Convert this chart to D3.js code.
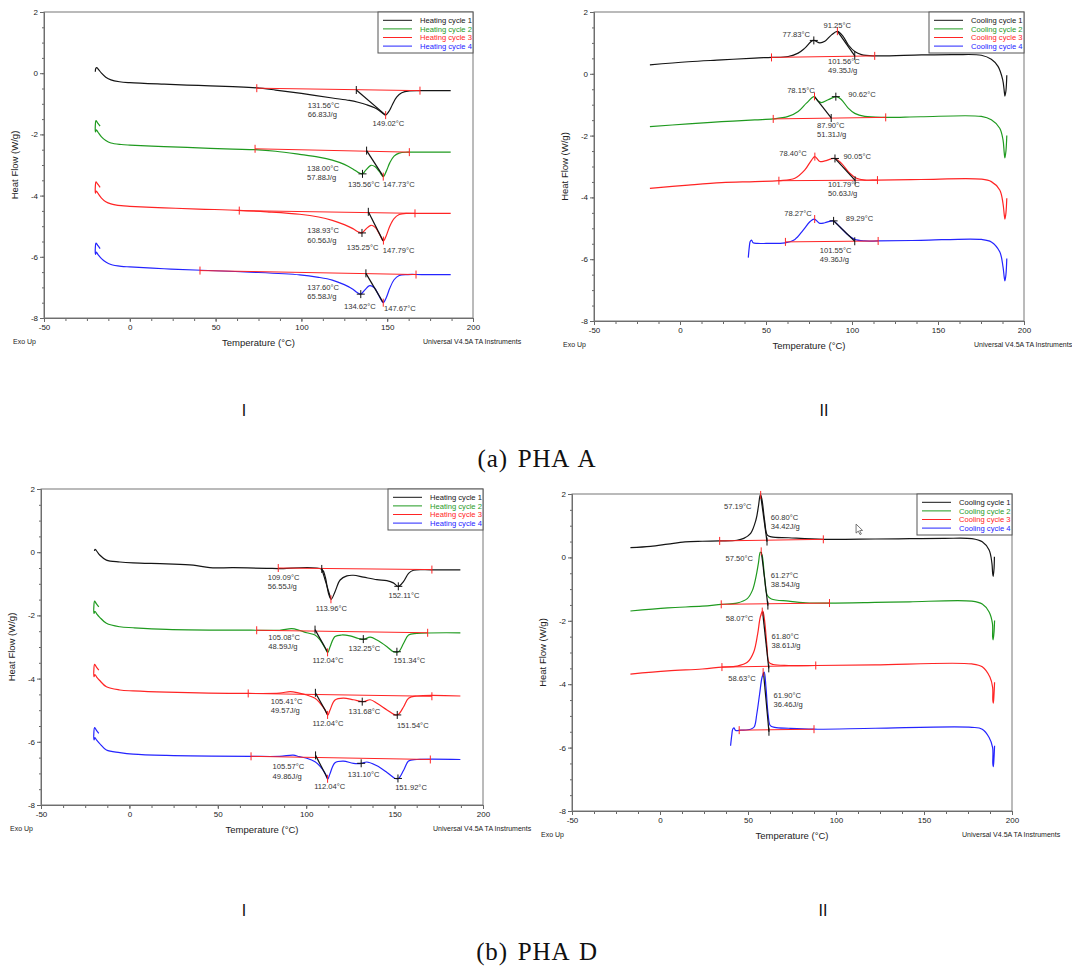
<html>
  <head>
    <title>DSC PHA A / PHA D</title>
    <meta charset="utf-8" />
    <script src="https://cdnjs.cloudflare.com/ajax/libs/d3/7.8.5/d3.min.js"></script>
    <style>
      body { margin: 0; background: #fff; }
      svg { display: block; }
      text { font-family: "Liberation Sans", Arial, sans-serif; }
    </style>
  </head>
  <body>
    <svg width="1072" height="967"></svg>
  </body>

  <script>
    const xTicks = [-50, 0, 50, 100, 150, 200];
    const yTicks = [2, 0, -2, -4, -6, -8];
    const heatNames = ["Heating cycle 1", "Heating cycle 2", "Heating cycle 3", "Heating cycle 4"];
    const coolNames = ["Cooling cycle 1", "Cooling cycle 2", "Cooling cycle 3", "Cooling cycle 4"];

    // PHA A, heating
    const aHeat1 = [[-20.1,0.05],[-19.8,0.16],[-19.2,0.18],[-18.2,0.12],[-16.5,0.0],[-14,-0.13],[-11,-0.22],[-6,-0.28],[0,-0.31],[20,-0.36],[40,-0.40],[60,-0.44],[74,-0.48],[85,-0.55],[100,-0.66],[118,-0.81],[128,-0.89],[133,-0.95],[138,-1.03],[143,-1.14],[147,-1.29],[149,-1.37],[151,-1.25],[153,-1.03],[155.5,-0.78],[158.5,-0.64],[163,-0.58],[170,-0.57],[187,-0.57]];
    const aHeat2 = [[-17.3,-1.73],[-18.8,-1.62],[-19.7,-1.55],[-20.1,-1.72],[-20.0,-1.92],[-19.5,-1.85],[-18.5,-1.93],[-16.5,-2.08],[-14,-2.2],[-11,-2.28],[-5,-2.33],[0,-2.35],[20,-2.40],[40,-2.44],[60,-2.48],[73,-2.50],[85,-2.55],[99,-2.65],[110,-2.74],[118,-2.84],[125,-2.98],[130,-3.13],[133,-3.24],[135.5,-3.29],[137.5,-3.17],[140.5,-3.01],[143,-3.06],[145.5,-3.22],[147.7,-3.38],[149.5,-3.2],[151.5,-2.93],[154,-2.71],[157,-2.61],[162,-2.58],[170,-2.58],[187,-2.58]];
    const aHeat3 = [[-17.3,-3.73],[-18.8,-3.62],[-19.7,-3.55],[-20.1,-3.72],[-20.0,-3.92],[-19.5,-3.85],[-18.5,-3.93],[-16.5,-4.08],[-14,-4.2],[-11,-4.27],[-5,-4.33],[0,-4.35],[20,-4.40],[40,-4.44],[63.6,-4.48],[80,-4.53],[99,-4.61],[110,-4.70],[118,-4.81],[125,-4.95],[130,-5.08],[133,-5.18],[135.2,-5.22],[137.5,-5.1],[140.5,-4.97],[143,-5.04],[145.5,-5.26],[147.8,-5.48],[149.5,-5.3],[151.5,-5.0],[154,-4.75],[157,-4.62],[162,-4.58],[170,-4.58],[187,-4.58]];
    const aHeat4 = [[-17.3,-5.73],[-18.8,-5.62],[-19.7,-5.55],[-20.1,-5.72],[-20.0,-5.92],[-19.5,-5.85],[-18.5,-5.93],[-16.5,-6.06],[-14,-6.17],[-11,-6.25],[-5,-6.31],[0,-6.33],[20,-6.39],[41.7,-6.44],[70,-6.50],[99,-6.59],[110,-6.67],[118,-6.76],[125,-6.91],[130,-7.06],[132.5,-7.17],[134.6,-7.22],[137,-7.08],[139.8,-6.94],[142.5,-7.01],[145,-7.25],[147.7,-7.5],[149.5,-7.33],[151.5,-7.03],[154,-6.75],[157,-6.61],[162,-6.58],[170,-6.58],[187,-6.58]];
    const aHeatBase = [[[74.0,-0.49],[169.1,-0.57]],[[73.0,-2.47],[162.9,-2.58]],[[63.8,-4.49],[166.2,-4.58]],[[40.9,-6.45],[166.8,-6.58]]];
    const aHeatTan = [[[132.0,-0.55],[149.1,-1.37]],[[138.0,-2.53],[147.7,-3.37]],[[139.0,-4.53],[147.6,-5.48]],[[137.6,-6.54],[147.5,-7.48]]];
    const aHeatPeak = [[149.1,-1.37],[147.7,-3.38],[147.8,-5.47],[147.7,-7.5]];
    const aHeatCross = [[135.6,-3.29],[135.3,-5.22],[134.6,-7.22]];
    const aHeatLabels = [["131.56°C",103.7,-1.06],["66.83J/g",103.7,-1.33],["149.02°C",141.5,-1.64],
      ["138.00°C",103.3,-3.10],["57.88J/g",103.3,-3.39],["135.56°C",127.2,-3.62],["147.73°C",147.6,-3.62],
      ["138.93°C",103.4,-5.15],["60.56J/g",103.4,-5.47],["135.25°C",126.4,-5.70],["147.79°C",147.4,-5.78],
      ["137.60°C",103.4,-7.01],["65.58J/g",103.4,-7.30],["134.62°C",124.8,-7.63],["147.67°C",148.1,-7.68]];

    // PHA A, cooling
    const aCool1 = [[-17.5,0.29],[4.8,0.39],[24.2,0.45],[43.5,0.51],[53.2,0.53],[62.9,0.56],[68.7,0.67],[72.6,0.83],[77.4,1.08],[81.3,1.0],[84.2,1.05],[88.1,1.26],[91.6,1.37],[94.8,1.21],[97.8,0.94],[101.6,0.72],[105.5,0.62],[113.2,0.58],[140.4,0.61],[159.7,0.62],[175.2,0.6],[181,0.47],[184.9,0.24],[187.6,-0.19],[188.5,-0.55],[188.9,-0.72],[189.5,-0.55],[190,-0.05]];
    const aCool2 = [[-17.5,-1.71],[4.8,-1.62],[24.2,-1.55],[43.5,-1.49],[54.2,-1.46],[62.9,-1.38],[68.7,-1.22],[73.5,-0.95],[78,-0.74],[80.3,-0.88],[82.3,-0.93],[86.1,-0.84],[91,-0.74],[93.9,-0.84],[97.8,-1.11],[101.6,-1.28],[107.4,-1.38],[119.6,-1.41],[140,-1.39],[175.2,-1.38],[181,-1.49],[185.9,-1.76],[187.8,-2.14],[188.5,-2.55],[188.9,-2.72],[189.5,-2.5],[190,-2.0]];
    const aCool3 = [[-17.5,-3.71],[4.8,-3.6],[24.2,-3.52],[43.5,-3.49],[57.5,-3.46],[66.8,-3.38],[72.6,-3.11],[76.5,-2.79],[78.4,-2.68],[81.3,-2.84],[84.2,-2.82],[90,-2.74],[93.9,-2.9],[98.7,-3.22],[102.6,-3.38],[107.4,-3.44],[114.8,-3.44],[140,-3.42],[175.2,-3.41],[181,-3.49],[185.9,-3.76],[187.8,-4.2],[188.5,-4.55],[188.9,-4.7],[189.5,-4.5],[190,-4.03]];
    const aCool4 = [[39.7,-5.95],[40.3,-5.6],[40.8,-5.43],[41.6,-5.38],[42.5,-5.47],[45,-5.49],[50,-5.49],[61,-5.47],[66.8,-5.36],[71.6,-5.06],[75.5,-4.79],[78,-4.70],[81.3,-4.84],[84.2,-4.82],[89,-4.76],[92.9,-4.95],[97.8,-5.22],[101.6,-5.36],[107.4,-5.41],[115.2,-5.41],[140,-5.39],[175.2,-5.36],[181,-5.44],[185.9,-5.76],[187.8,-6.25],[188.5,-6.58],[188.9,-6.7],[189.5,-6.5],[190,-5.98]];
    const aCoolBase = [[[53.2,0.53],[113.2,0.58]],[[54.2,-1.46],[119.6,-1.41]],[[57.5,-3.46],[114.8,-3.44]],[[61.3,-5.44],[115.2,-5.41]]];
    const aCoolTan = [[[101.6,0.58],[91.5,1.38]],[[87.9,-1.43],[78.2,-0.74]],[[101.8,-3.45],[90.1,-2.74]],[[101.6,-5.42],[89.3,-4.76]]];
    const aCoolPeak = [[91.5,1.38],[78.2,-0.73],[78.4,-2.68],[78.3,-4.70]];
    const aCoolCross = [[77.8,1.08],[90.6,-0.74],[90.1,-2.74],[89.3,-4.76]];
    const aCoolLabels = [["77.83°C",59.6,1.29],["91.25°C",83.4,1.57],["101.56°C",86.1,0.39],["49.35J/g",86.1,0.10],
      ["78.15°C",62.3,-0.55],["90.62°C",97.8,-0.66],["87.90°C",79.7,-1.68],["51.31J/g",79.7,-1.97],
      ["78.40°C",57.7,-2.56],["90.05°C",95.0,-2.68],["101.79°C",86.1,-3.58],["50.63J/g",86.1,-3.87],
      ["78.27°C",60.6,-4.52],["89.29°C",96.4,-4.69],["101.55°C",81.3,-5.72],["49.36J/g",81.3,-6.0]];

    // PHA D, heating
    const bHeat1 = [[-19.8,0.04],[-19.4,0.09],[-18.8,0.06],[-16.8,-0.09],[-13,-0.25],[-5.4,-0.31],[2.1,-0.34],[21,-0.37],[36.1,-0.41],[45.5,-0.49],[58.8,-0.49],[77.6,-0.51],[84.2,-0.52],[108.8,-0.54],[110.7,-0.77],[112.6,-1.30],[114.1,-1.49],[116.3,-1.25],[119.2,-0.88],[123,-0.75],[126.7,-0.73],[132.4,-0.79],[140,-0.87],[145.6,-0.9],[149.3,-0.97],[152.1,-1.08],[155,-0.93],[157.9,-0.67],[160.7,-0.57],[171.1,-0.56],[187.2,-0.56]];
    const bHeat2 = [[-17.3,-1.73],[-18.8,-1.62],[-19.7,-1.55],[-20.1,-1.72],[-20.0,-1.94],[-19.5,-1.87],[-18.5,-1.95],[-16.8,-2.06],[-13,-2.25],[-5.4,-2.36],[2.1,-2.39],[21,-2.44],[72,-2.47],[85,-2.47],[91.8,-2.42],[96,-2.47],[100.3,-2.55],[105,-2.62],[107.9,-2.78],[110.7,-3.04],[112.2,-3.18],[113.5,-2.99],[116.3,-2.67],[120.1,-2.62],[124.8,-2.65],[129.6,-2.73],[132.4,-2.76],[136.2,-2.69],[140,-2.78],[145.7,-2.99],[149.4,-3.15],[152.2,-3.15],[155.1,-2.88],[157.9,-2.62],[162.6,-2.57],[187.2,-2.55]];
    const bHeat3 = [[-17.3,-3.73],[-18.8,-3.62],[-19.7,-3.55],[-20.1,-3.72],[-20.0,-3.94],[-19.5,-3.87],[-18.5,-3.95],[-16.8,-4.06],[-13,-4.26],[-5.4,-4.36],[2.1,-4.39],[21,-4.43],[67.2,-4.47],[85,-4.46],[91,-4.41],[96,-4.46],[100.3,-4.52],[105,-4.62],[107.9,-4.78],[110.7,-4.99],[112.2,-5.16],[113.5,-4.99],[116.3,-4.68],[121,-4.62],[126.7,-4.67],[132.4,-4.73],[136.2,-4.67],[140,-4.78],[145.7,-4.99],[150.3,-5.15],[152.2,-5.13],[155.1,-4.89],[157.9,-4.62],[162.6,-4.55],[187.2,-4.55]];
    const bHeat4 = [[-17.3,-5.73],[-18.8,-5.62],[-19.7,-5.55],[-20.1,-5.72],[-20.0,-5.94],[-19.5,-5.87],[-18.5,-5.95],[-16.8,-6.06],[-13,-6.26],[-5.4,-6.34],[2.1,-6.39],[21,-6.43],[68.8,-6.46],[85,-6.46],[92.7,-6.42],[96,-6.47],[100.3,-6.52],[105,-6.63],[107.9,-6.78],[110.7,-7.0],[112.2,-7.18],[113.5,-7.0],[116.3,-6.66],[121,-6.61],[126.7,-6.68],[131.4,-6.68],[134.3,-6.64],[140,-6.76],[145.7,-6.97],[150.3,-7.16],[152.2,-7.16],[155.1,-6.9],[157.9,-6.61],[162.6,-6.56],[187.2,-6.56]];
    const bHeatBase = [[[84.2,-0.50],[171.1,-0.55]],[[72.0,-2.47],[168.7,-2.55]],[[67.2,-4.47],[171.1,-4.56]],[[68.8,-6.46],[170.2,-6.56]]];
    const bHeatTan = [[[108.8,-0.53],[113.9,-1.47]],[[105.0,-2.45],[112.1,-3.16]],[[105.2,-4.45],[112.1,-5.14]],[[105.3,-6.43],[112.1,-7.16]]];
    const bHeatPeak = [[114.0,-1.49],[112.1,-3.17],[112.1,-5.15],[112.1,-7.17]];
    const bHeatCross = [[152.1,-1.08],[132.3,-2.75],[151.3,-3.15],[131.7,-4.73],[151.5,-5.15],[131.1,-6.68],[151.9,-7.16]];
    const bHeatLabels = [["109.09°C",78.2,-0.78],["56.55J/g",78.2,-1.07],["113.96°C",105.4,-1.78],["152.11°C",146.5,-1.38],
      ["105.08°C",78.6,-2.71],["48.59J/g",78.6,-2.99],["112.04°C",103.5,-3.41],["132.25°C",123.9,-3.05],["151.34°C",149.4,-3.43],
      ["105.41°C",79.9,-4.71],["49.57J/g",79.9,-4.99],["112.04°C",103.5,-5.42],["131.68°C",123.9,-5.05],["151.54°C",151.3,-5.49],
      ["105.57°C",81.0,-6.79],["49.86J/g",81.0,-7.09],["112.04°C",104.5,-7.40],["131.10°C",123.5,-7.03],["151.92°C",150.3,-7.44]];

    // PHA D, cooling
    const bCool1 = [[-16.8,0.31],[-5.4,0.35],[4.4,0.42],[14.2,0.49],[24,0.51],[33.9,0.52],[43.7,0.54],[47.6,0.6],[51.5,0.76],[54.5,1.18],[55.9,1.6],[57,1.97],[57.8,1.86],[59.4,1.18],[61,0.7],[63.3,0.65],[73.1,0.62],[92.8,0.57],[122.2,0.58],[141.9,0.59],[161.5,0.6],[177.2,0.59],[183.1,0.49],[187,0.23],[188.6,-0.19],[189,-0.5],[189.3,-0.6],[189.8,-0.35],[190,0.02]];
    const bCool2 = [[-16.8,-1.69],[4.4,-1.59],[24,-1.54],[34.8,-1.48],[43.7,-1.44],[49.6,-1.3],[52.5,-1.04],[54.5,-0.62],[55.9,-0.19],[57,0.17],[58,0.07],[59.4,-0.62],[61,-1.2],[63.3,-1.31],[73.1,-1.38],[82.9,-1.43],[96.3,-1.44],[122.2,-1.42],[141.9,-1.4],[177.2,-1.38],[183.1,-1.47],[187,-1.72],[188.9,-2.09],[189,-2.5],[189.3,-2.6],[189.8,-2.35],[190.1,-1.99]];
    const bCool3 = [[-16.8,-3.68],[4.4,-3.58],[24,-3.52],[35.2,-3.46],[43.7,-3.43],[49.6,-3.31],[53.2,-2.99],[55.5,-2.41],[57,-1.88],[58.4,-1.69],[59.4,-1.98],[60.8,-2.82],[61.9,-3.31],[64.3,-3.38],[73.1,-3.41],[88.5,-3.41],[122.2,-3.39],[177.2,-3.36],[183.1,-3.45],[187.5,-3.78],[189,-4.1],[189.1,-4.5],[189.4,-4.6],[189.8,-4.3],[190.1,-3.94]];
    const bCool4 = [[40.1,-5.94],[40.8,-5.6],[41.3,-5.42],[42,-5.38],[43,-5.46],[46,-5.45],[51.5,-5.42],[53.5,-5.35],[55,-4.94],[56.6,-4.31],[58,-3.78],[59.2,-3.62],[60.2,-4.09],[61.4,-4.94],[62.7,-5.31],[65.2,-5.36],[73.1,-5.39],[87.5,-5.42],[122.2,-5.39],[177.2,-5.36],[183.1,-5.42],[187,-5.68],[189,-6.0],[189.1,-6.5],[189.4,-6.6],[189.8,-6.3],[190.1,-5.94]];
    const bCoolBase = [[[33.9,0.52],[92.8,0.57]],[[34.8,-1.48],[96.3,-1.44]],[[35.2,-3.46],[88.5,-3.41]],[[45.0,-5.45],[87.5,-5.42]]];
    const bCoolTan = [[[60.8,0.50],[57.2,1.96]],[[61.3,-1.52],[57.6,0.17]],[[61.8,-3.5],[58.3,-1.72]],[[61.9,-5.5],[58.8,-3.63]]];
    const bCoolPeak = [[57.2,1.97],[57.5,0.19],[58.1,-1.71],[58.6,-3.62]];
    const bCoolCross = [];
    const bCoolLabels = [["57.19°C",36.4,1.60],["60.80°C",62.9,1.26],["34.42J/g",62.9,0.99],
      ["57.50°C",37.2,-0.03],["61.27°C",62.9,-0.57],["38.54J/g",62.9,-0.85],
      ["58.07°C",37.4,-1.93],["61.80°C",63.3,-2.49],["38.61J/g",63.3,-2.78],
      ["58.63°C",38.8,-3.83],["61.90°C",64.5,-4.34],["36.46J/g",64.5,-4.62]];

    const colors = ["#151515", "#1f9a1f", "#ff2424", "#2424ff"];
    const svg = d3.select("svg");
    svg.append("rect").attr("width", 1072).attr("height", 967).attr("fill", "#fff");

    function drawPanel(p) {
      const x = d3.scaleLinear().domain([-50, 200]).range([p.left, p.right]);
      const y = d3.scaleLinear().domain([-8, 2]).range([p.bottom, p.top]);
      const g = svg.append("g");

      g.append("g").attr("transform", `translate(0,${p.bottom})`)
        .call(d3.axisBottom(x).tickValues(d3.range(-50, 200.1, 12.5)).tickSize(3).tickFormat(""));
      g.append("g").attr("transform", `translate(0,${p.bottom})`)
        .call(d3.axisBottom(x).tickValues(xTicks).tickSize(4).tickPadding(2).tickFormat((d) => String(d)));
      g.append("g").attr("transform", `translate(${p.left},0)`)
        .call(d3.axisLeft(y).tickValues(d3.range(-8, 2.01, 0.5)).tickSize(2).tickFormat(""));
      g.append("g").attr("transform", `translate(${p.left},0)`)
        .call(d3.axisLeft(y).tickValues(yTicks).tickSize(4).tickPadding(2).tickFormat((d) => String(d)));
      g.selectAll(".domain, .tick line").attr("stroke", "#666");
      g.selectAll(".tick text").attr("font-size", 8).attr("fill", "#222")
        .attr("font-family", '"Liberation Sans", Arial, sans-serif');

      g.append("rect").attr("x", p.left).attr("y", p.top)
        .attr("width", p.right - p.left).attr("height", p.bottom - p.top)
        .attr("fill", "none").attr("stroke", "#777").attr("stroke-width", 1);

      const line = d3.line().x((d) => x(d[0])).y((d) => y(d[1])).curve(d3.curveCatmullRom.alpha(0.5));
      p.curves.forEach((c, i) => {
        g.append("path").attr("d", line(c)).attr("fill", "none")
          .attr("stroke", colors[i]).attr("stroke-width", 1.2);
      });

      const vtick = (pt, col) => g.append("line")
        .attr("x1", x(pt[0])).attr("x2", x(pt[0]))
        .attr("y1", y(pt[1]) - 4).attr("y2", y(pt[1]) + 4)
        .attr("stroke", col).attr("stroke-width", 1);

      p.base.forEach((b) => {
        g.append("line").attr("x1", x(b[0][0])).attr("y1", y(b[0][1]))
          .attr("x2", x(b[1][0])).attr("y2", y(b[1][1]))
          .attr("stroke", "#ff2424").attr("stroke-width", 1);
        vtick(b[0], "#ff2424");
        vtick(b[1], "#ff2424");
      });
      p.tan.forEach((t) => {
        g.append("line").attr("x1", x(t[0][0])).attr("y1", y(t[0][1]))
          .attr("x2", x(t[1][0])).attr("y2", y(t[1][1]))
          .attr("stroke", "#111").attr("stroke-width", 1.2);
        vtick(t[0], "#111");
      });
      p.peak.forEach((pt) => vtick(pt, "#ff2424"));
      p.cross.forEach((pt) => {
        vtick(pt, "#111");
        g.append("line").attr("x1", x(pt[0]) - 4).attr("x2", x(pt[0]) + 4)
          .attr("y1", y(pt[1])).attr("y2", y(pt[1])).attr("stroke", "#111");
      });

      g.selectAll("text.ann").data(p.labels).enter().append("text")
        .attr("class", "ann")
        .attr("x", (d) => x(d[1])).attr("y", (d) => y(d[2]))
        .attr("dy", "0.35em").attr("font-size", 7.6).attr("fill", "#333")
        .text((d) => d[0]);

      const lg = g.append("g").attr("transform", `translate(${p.right - 95},${p.top})`);
      lg.append("rect").attr("width", 95).attr("height", 41)
        .attr("fill", "#fff").attr("stroke", "#555");
      p.names.forEach((n, i) => {
        const yy = 8.3 + i * 8.6;
        lg.append("line").attr("x1", 5).attr("x2", 34).attr("y1", yy).attr("y2", yy)
          .attr("stroke", colors[i]).attr("stroke-width", 1);
        lg.append("text").attr("x", 42).attr("y", yy).attr("dy", "0.35em")
          .attr("font-size", 7.6).attr("fill", colors[i]).text(n);
      });

      g.append("text").attr("transform", `translate(${p.left - 29},${(p.top + p.bottom) / 2}) rotate(-90)`)
        .attr("text-anchor", "middle").attr("dy", "0.35em")
        .attr("font-size", 9.5).attr("fill", "#222").text("Heat Flow (W/g)");
      g.append("text").attr("x", (p.left + p.right) / 2).attr("y", p.bottom + 25)
        .attr("text-anchor", "middle").attr("dy", "0.35em")
        .attr("font-size", 9.5).attr("fill", "#222").text("Temperature (°C)");
      g.append("text").attr("x", p.left - 31).attr("y", p.bottom + 24).attr("dy", "0.35em")
        .attr("font-size", 7).attr("fill", "#222").text("Exo Up");
      g.append("text").attr("x", p.right - 50).attr("y", p.bottom + 24).attr("dy", "0.35em")
        .attr("font-size", 7).attr("fill", "#222").text("Universal V4.5A TA Instruments");

      return { x, y, g };
    }

    drawPanel({ left: 44, right: 473, top: 12, bottom: 318, names: heatNames,
      curves: [aHeat1, aHeat2, aHeat3, aHeat4], base: aHeatBase, tan: aHeatTan,
      peak: aHeatPeak, cross: aHeatCross, labels: aHeatLabels });
    drawPanel({ left: 594, right: 1024, top: 12, bottom: 321, names: coolNames,
      curves: [aCool1, aCool2, aCool3, aCool4], base: aCoolBase, tan: aCoolTan,
      peak: aCoolPeak, cross: aCoolCross, labels: aCoolLabels });
    drawPanel({ left: 41, right: 483, top: 489, bottom: 805, names: heatNames,
      curves: [bHeat1, bHeat2, bHeat3, bHeat4], base: bHeatBase, tan: bHeatTan,
      peak: bHeatPeak, cross: bHeatCross, labels: bHeatLabels });
    const bII = drawPanel({ left: 572, right: 1012, top: 494, bottom: 811, names: coolNames,
      curves: [bCool1, bCool2, bCool3, bCool4], base: bCoolBase, tan: bCoolTan,
      peak: bCoolPeak, cross: bCoolCross, labels: bCoolLabels });

    // mouse pointer left in the screenshot
    bII.g.append("path")
      .attr("transform", `translate(${bII.x(111.4)},${bII.y(1.05)})`)
      .attr("d", "M0,0 L0,9 L2.2,7 L4,10.5 L5.3,9.8 L3.6,6.5 L6.5,6.3 Z")
      .attr("fill", "#fff").attr("stroke", "#555").attr("stroke-width", 0.8);

    const roman = [["I", 244, 416], ["II", 824, 416], ["I", 244, 916], ["II", 823, 916]];
    svg.selectAll("text.roman").data(roman).enter().append("text")
      .attr("class", "roman").attr("x", (d) => d[1]).attr("y", (d) => d[2])
      .attr("text-anchor", "middle").attr("font-size", 16).attr("fill", "#111")
      .text((d) => d[0]);

    const captions = [["(a) PHA A", 537, 467], ["(b) PHA D", 537, 960]];
    svg.selectAll("text.cap").data(captions).enter().append("text")
      .attr("class", "cap").attr("x", (d) => d[1]).attr("y", (d) => d[2])
      .attr("text-anchor", "middle").attr("font-size", 25).attr("fill", "#111")
      .attr("letter-spacing", 0.8).attr("word-spacing", 3)
      .style("font-family", '"Liberation Serif", "DejaVu Serif", serif')
      .text((d) => d[0]);
  </script>
</html>
